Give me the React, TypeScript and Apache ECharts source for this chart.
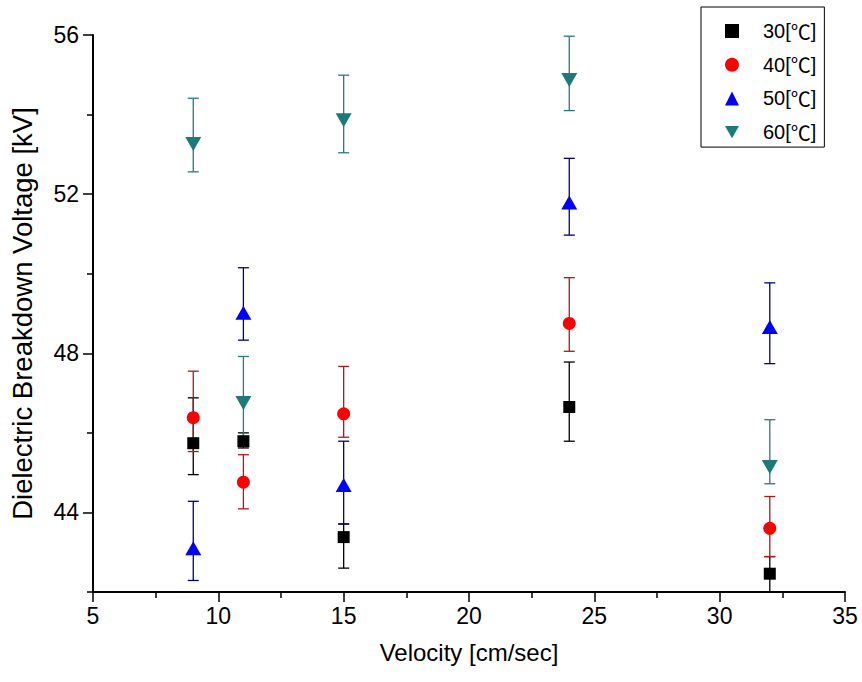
import React, { useEffect, useRef } from "react";
import * as echarts from "echarts";

const velocities = [9, 11, 15, 24, 32];

const seriesNames = ["30[℃]", "40[℃]", "50[℃]", "60[℃]"];

const v30 = [45.74, 45.79, 43.38, 46.65, 42.46];
const v30Hi = [46.88, 46.0, 43.71, 47.78, 42.89];
const v30Lo = [44.95, 45.62, 42.6, 45.79, 42.0];

const v40 = [46.38, 44.76, 46.48, 48.75, 43.6];
const v40Hi = [47.55, 45.45, 47.67, 49.9, 44.4];
const v40Lo = [45.53, 44.09, 45.89, 48.05, 42.89];

const v50 = [43.1, 49.02, 44.69, 51.79, 48.66];
const v50Hi = [44.28, 50.15, 45.79, 52.9, 49.77];
const v50Lo = [42.29, 48.33, 43.71, 50.97, 47.74];

const v60 = [53.26, 46.75, 53.86, 54.87, 45.14];
const v60Hi = [54.41, 47.92, 54.99, 55.97, 46.33];
const v60Lo = [52.56, 45.86, 53.04, 54.1, 44.72];

const xMajorTicks = [5, 10, 15, 20, 25, 30, 35];
const xMinorTicks = [7.5, 12.5, 17.5, 22.5, 27.5, 32.5];
const yMajorTicks = [44, 48, 52, 56];
const yMinorTicks = [42, 46, 50, 54];

const FONT = "'Liberation Sans', Arial, sans-serif";
const CJK = "'Noto Sans CJK SC', sans-serif";

const markerColors = ["#000000", "#ff0000", "#0000ff", "#1c7a7a"];
const barColors = ["#000000", "#b01818", "#000080", "#2a7a7a"];
const symbols = ["rect", "circle", "triangle", "path://M0,0L16,0L8,14Z"];
const symbolSizes: any[] = [12, 13, [16, 14], [16, 14]];

const values = [v30, v40, v50, v60];
const highs = [v30Hi, v40Hi, v50Hi, v60Hi];
const lows = [v30Lo, v40Lo, v50Lo, v60Lo];

export default function App() {
  const ref = useRef<HTMLDivElement>(null);
  useEffect(() => {
    if (!ref.current) return;
    const chart = echarts.init(ref.current, null, { renderer: "svg" });

    const series: any[] = [];
    for (let s = 0; s < 4; s++) {
      series.push({
        name: seriesNames[s] + " error",
        type: "custom",
        xAxisIndex: 0,
        yAxisIndex: 0,
        z: 2,
        clip: true,
        silent: true,
        encode: { x: 0, y: [1, 2] },
        data: velocities.map((x, i) => [x, lows[s][i], highs[s][i]]),
        renderItem: (params: any, api: any) => {
          const x = api.value(0);
          const lo = api.coord([x, api.value(1)]);
          const hi = api.coord([x, api.value(2)]);
          const hw = 5.5;
          const style = { stroke: barColors[s], lineWidth: 1.3 };
          return {
            type: "group",
            children: [
              { type: "line", shape: { x1: lo[0], y1: lo[1], x2: hi[0], y2: hi[1] }, style },
              { type: "line", shape: { x1: hi[0] - hw, y1: hi[1], x2: hi[0] + hw, y2: hi[1] }, style },
              { type: "line", shape: { x1: lo[0] - hw, y1: lo[1], x2: lo[0] + hw, y2: lo[1] }, style },
            ],
          };
        },
      });
    }
    for (let s = 0; s < 4; s++) {
      series.push({
        name: seriesNames[s],
        type: "scatter",
        xAxisIndex: 0,
        yAxisIndex: 0,
        z: 3,
        symbol: symbols[s],
        symbolSize: symbolSizes[s],
        itemStyle: { color: markerColors[s], opacity: 1 },
        data: velocities.map((x, i) => [x, values[s][i]]),
      });
    }

    const axisLineStyle = { color: "#000", width: 2 };

    chart.setOption({
      animation: false,
      backgroundColor: "#ffffff",
      grid: { left: 87, right: 17, top: 35, bottom: 90, containLabel: false },
      legend: {
        orient: "vertical",
        left: 701,
        top: 7,
        padding: [14, 8, 5, 24],
        itemGap: 13.7,
        itemWidth: 14,
        itemHeight: 14,
        borderColor: "#000",
        borderWidth: 1,
        data: seriesNames,
        formatter: (name: string) => {
          const parts = name.split("℃");
          return "{a|" + parts[0] + "}{c|℃}{a|" + parts[1] + "}";
        },
        textStyle: {
          color: "#000",
          padding: [0, 0, 0, 19],
          rich: {
            a: { fontFamily: FONT, fontSize: 20, lineHeight: 20, color: "#000" },
            c: { fontFamily: CJK, fontSize: 20, lineHeight: 20, color: "#000" },
          },
        },
      },
      xAxis: [
        {
          type: "value",
          min: 5,
          max: 35,
          position: "bottom",
          name: "Velocity [cm/sec]",
          nameLocation: "middle",
          nameGap: 48,
          nameTextStyle: { fontFamily: FONT, fontSize: 24, color: "#000" },
          axisLine: { show: true, lineStyle: axisLineStyle },
          axisTick: {
            show: true,
            length: 10,
            customValues: xMajorTicks,
            lineStyle: { color: "#000", width: 1.5 },
          },
          axisLabel: {
            show: true,
            customValues: xMajorTicks,
            margin: 12,
            fontFamily: FONT,
            fontSize: 23,
            color: "#000",
          },
          splitLine: { show: false },
        },
        {
          type: "value",
          min: 5,
          max: 35,
          position: "bottom",
          axisLine: { show: false },
          axisTick: {
            show: true,
            length: 6,
            customValues: xMinorTicks,
            lineStyle: { color: "#000", width: 1.5 },
          },
          axisLabel: { show: false },
          splitLine: { show: false },
        },
      ],
      yAxis: [
        {
          type: "value",
          min: 42,
          max: 56,
          position: "left",
          name: "Dielectric Breakdown Voltage [kV]",
          nameLocation: "middle",
          nameGap: 57,
          nameTextStyle: { fontFamily: FONT, fontSize: 27.5, color: "#000" },
          axisLine: { show: true, lineStyle: axisLineStyle },
          axisTick: {
            show: true,
            length: 10,
            customValues: yMajorTicks,
            lineStyle: { color: "#000", width: 1.5 },
          },
          axisLabel: {
            show: true,
            customValues: yMajorTicks,
            margin: 14,
            fontFamily: FONT,
            fontSize: 23,
            color: "#000",
          },
          splitLine: { show: false },
        },
        {
          type: "value",
          min: 42,
          max: 56,
          position: "left",
          axisLine: { show: false },
          axisTick: {
            show: true,
            length: 6,
            customValues: yMinorTicks,
            lineStyle: { color: "#000", width: 1.5 },
          },
          axisLabel: { show: false },
          splitLine: { show: false },
        },
      ],
      series,
    });
    return () => chart.dispose();
  }, []);
  return (
    <div
      ref={ref}
      style={{ position: "absolute", left: 0, top: 0, width: 862, height: 682 }}
    />
  );
}
